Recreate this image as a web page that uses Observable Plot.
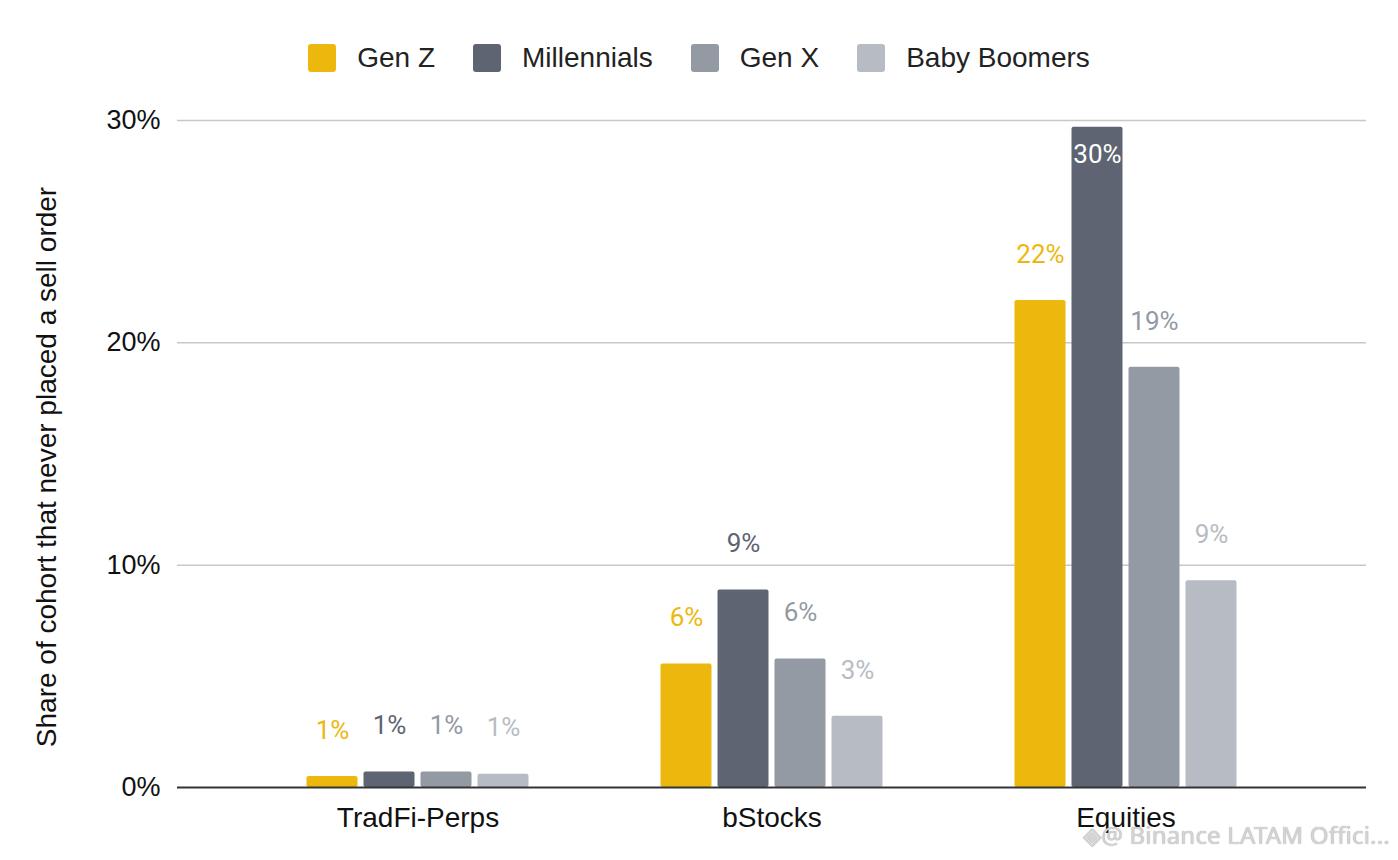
<!DOCTYPE html>
<html>
<head>
<meta charset="utf-8">
<script src="https://cdn.jsdelivr.net/npm/d3@7"></script>
<script src="https://cdn.jsdelivr.net/npm/@observablehq/plot@0.6"></script>
<style>
  html, body { margin: 0; padding: 0; background: #fff; }
  #wrap { position: relative; width: 1398px; height: 860px; overflow: hidden; }
  #legend { height: 95px; display: flex; align-items: flex-start; justify-content: center;
    font-family: "Liberation Sans", Arial, sans-serif; font-size: 28px; color: #222;
    box-sizing: border-box; padding-top: 43px; line-height: 30px; }
  #legend .item { display: flex; align-items: center; margin-right: 38px; }
  #legend .item:last-child { margin-right: 0; }
  #legend .sw { width: 28px; height: 28px; border-radius: 3px; margin-right: 21px; }
  #watermark { position: absolute; right: 8px; top: 818px; font-family: "Noto Sans", sans-serif;
    font-size: 24px; color: #d4d4d4; text-shadow: 0 0 1px #999; letter-spacing: 0.2px; }
</style>
</head>
<body>
<div id="wrap">
  <div id="legend"></div>
  <div id="chart"></div>
  <div id="watermark">◈@ Binance LATAM Offici...</div>
</div>
<script>
// ---- data ----
const categories = ["TradFi-Perps", "bStocks", "Equities"];
const generations = ["Gen Z", "Millennials", "Gen X", "Baby Boomers"];
const colors = ["#EDB80E", "#5E6471", "#939AA4", "#B7BCC4"];
const genZ        = [0.5, 5.55, 21.9];
const millennials = [0.7, 8.88, 29.7];
const genX        = [0.7, 5.78, 18.9];
const babyBoomers = [0.6, 3.2, 9.3];
const yTicks = [0, 10, 20, 30];
const yTitle = "Share of cohort that never placed a sell order";

const seriesValues = [genZ, millennials, genX, babyBoomers];
const rows = [];
generations.forEach((g, gi) => {
  categories.forEach((c, ci) => rows.push({category: c, generation: g, gi, value: seriesValues[gi][ci]}));
});

// ---- legend ----
const legend = document.getElementById("legend");
generations.forEach((g, i) => {
  const it = document.createElement("div");
  it.className = "item";
  it.innerHTML = `<div class="sw" style="background:${colors[i]}"></div><span>${g}</span>`;
  legend.appendChild(it);
});

// ---- chart ----
const barStep = 57;      // px between adjacent bars in a group
const yMax = 30;
const marks = [
  Plot.ruleY(yTicks.filter(d => d > 0), {stroke: "#c8c8c8", strokeWidth: 1.5})
];
generations.forEach((g, gi) => {
  const data = rows.filter(r => r.gi === gi);
  const dx = (gi - 1.5) * barStep;
  marks.push(Plot.barY(data, {x: "category", y: "value", fill: colors[gi], dx, rx: 2}));
  marks.push(Plot.text(data.filter(d => d.value < yMax - 2), {
    x: "category", y: "value", text: d => Math.round(d.value) + "%", dx, dy: -46,
    fill: colors[gi], fontSize: 26, fontFamily: "Roboto, sans-serif", lineAnchor: "middle"
  }));
  marks.push(Plot.text(data.filter(d => d.value >= yMax - 2), {
    x: "category", y: "value", text: d => Math.round(d.value) + "%", dx, dy: 28,
    fill: "#fff", stroke: colors[gi], strokeWidth: 2, paintOrder: "stroke",
    fontSize: 26, fontFamily: "Roboto, sans-serif", lineAnchor: "middle"
  }));
});
marks.push(Plot.ruleY([0], {stroke: "#333", strokeWidth: 2}));
marks.push(Plot.text([yTitle], {
  frameAnchor: "left", dx: -130, dy: 13, rotate: -90, text: d => d, textAnchor: "middle",
  fontSize: 28, fill: "#111", fontFamily: "Liberation Sans, Arial, sans-serif"
}));

const chart = Plot.plot({
  width: 1398,
  height: 765,
  marginTop: 25,
  marginBottom: 73,
  marginLeft: 177,
  marginRight: 32,
  style: {fontFamily: "Liberation Sans, Arial, sans-serif", fontSize: "27px", color: "#111", background: "#fff", overflow: "visible"},
  x: {domain: categories, paddingInner: 0.856, paddingOuter: 0.603, label: null, tickSize: 0, tickPadding: 20},
  y: {domain: [0, yMax], ticks: yTicks, tickFormat: d => d + "%", tickSize: 0, tickPadding: 17, label: null},
  marks
});
chart.querySelectorAll('[aria-label="x-axis tick label"] text, g[aria-label="x-axis"] text').forEach(t => t.style.fontSize = "28px");
document.getElementById("chart").appendChild(chart);
</script>
</body>
</html>
